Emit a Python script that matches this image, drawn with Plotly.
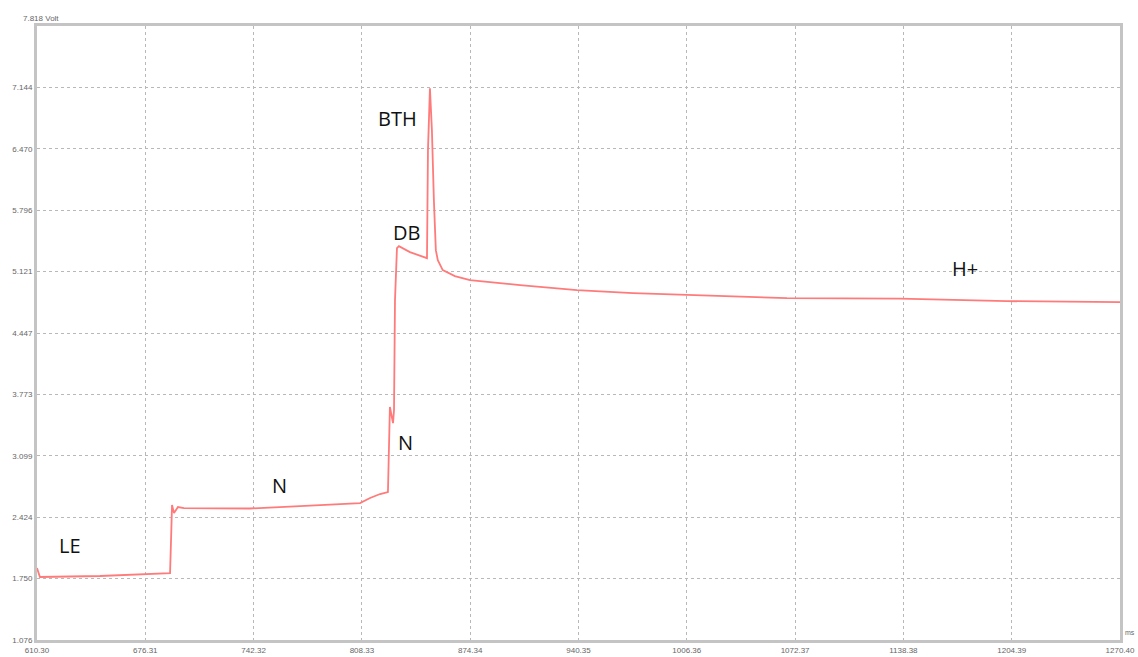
import plotly.graph_objects as go

# Trace samples (time in ms, voltage in Volt)
time_ms = [610.3, 612.1, 648.7, 691.4, 692.0, 692.6, 693.8, 696.2, 699.9, 740.1, 770.6,
           807.2, 813.3, 819.4, 824.2, 824.8, 825.4, 827.3, 827.9, 828.5, 829.7, 830.9,
           837.6, 848.0, 848.6, 849.8, 851.0, 852.2, 853.4, 854.6, 857.6, 865.0, 874.2,
           904.7, 939.4, 973.6, 1006.5, 1067.4, 1136.3, 1201.5, 1270.4]
voltage = [1.866, 1.768, 1.779, 1.811, 2.174, 2.558, 2.470, 2.536, 2.525, 2.520, 2.547,
           2.580, 2.635, 2.679, 2.701, 3.162, 3.634, 3.458, 3.601, 4.808, 5.379, 5.401,
           5.335, 5.269, 6.455, 7.135, 6.674, 5.906, 5.357, 5.247, 5.138, 5.072, 5.028,
           4.973, 4.918, 4.885, 4.863, 4.830, 4.825, 4.797, 4.786]

# Axis ticks
x_ticks = [610.30, 676.31, 742.32, 808.33, 874.34, 940.35, 1006.36, 1072.37, 1138.38, 1204.39, 1270.40]
x_tick_labels = ["610.30", "676.31", "742.32", "808.33", "874.34", "940.35", "1006.36",
                 "1072.37", "1138.38", "1204.39", "1270.40"]
y_ticks = [1.076, 1.750, 2.424, 3.099, 3.773, 4.447, 5.121, 5.796, 6.470, 7.144]
y_tick_labels = ["1.076", "1.750", "2.424", "3.099", "3.773", "4.447", "5.121", "5.796", "6.470", "7.144"]
y_top_label = "7.818 Volt"
x_unit_label = "ms"

# Phase labels
label_text = ["LE", "N", "N", "DB", "BTH", "H+"]
label_x = [630.4, 758.4, 834.6, 835.8, 830.3, 1175.9]
label_y = [2.119, 2.777, 3.249, 5.555, 6.806, 5.159]

fig = go.Figure()
fig.add_trace(go.Scatter(x=time_ms, y=voltage, mode="lines",
                         line=dict(color="#ff7b7b", width=1.8), hoverinfo="x+y",
                         showlegend=False))

for t, x, y in zip(label_text, label_x, label_y):
    fig.add_annotation(x=x, y=y, text=t, showarrow=False,
                       font=dict(family="Open Sans, Liberation Sans, sans-serif", size=20, color="#111"))

fig.add_annotation(xref="paper", yref="paper", x=0, y=1, xanchor="right", yanchor="bottom",
                   xshift=24, yshift=1, text=y_top_label, showarrow=False,
                   font=dict(family="Liberation Sans, Arial", size=8, color="#666"))
fig.add_annotation(xref="paper", yref="paper", x=1, y=0, xanchor="left", yanchor="bottom",
                   xshift=3, yshift=2, text=x_unit_label, showarrow=False,
                   font=dict(family="Liberation Sans, Arial", size=7, color="#666"))

axis_common = dict(showline=True, linecolor="#c4c4c4", linewidth=3, mirror=True,
                   showgrid=True, gridcolor="#b8b8b8", gridwidth=1, griddash="dot",
                   zeroline=False, ticks="", automargin=False,
                   tickfont=dict(family="Liberation Sans, Arial", size=8, color="#666"))

fig.update_layout(
    width=1138, height=657,
    margin=dict(l=37, r=18, t=26, b=17),
    paper_bgcolor="white", plot_bgcolor="white",
    xaxis=dict(range=[610.30, 1270.40], tickvals=x_ticks, ticktext=x_tick_labels, **axis_common),
    yaxis=dict(range=[1.076, 7.818], tickvals=y_ticks, ticktext=y_tick_labels, **axis_common),
)

fig.write_html("out.html", config={"displayModeBar": False},
               post_script="document.body.style.margin='0';document.body.style.overflow='hidden';")
